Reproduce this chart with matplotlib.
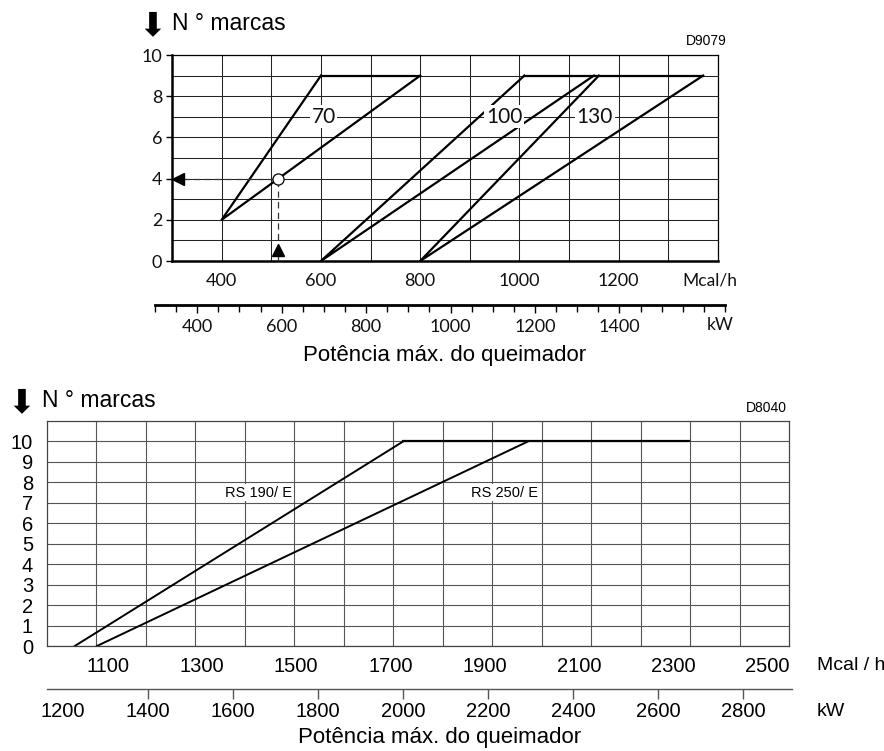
import numpy as np
import matplotlib.pyplot as plt
from matplotlib.transforms import ScaledTranslation

# ---- top chart (D9079): Mcal/h vs number of marks ----
top_models = ['70', '100', '130']
top_low_power = [400, 600, 800]      # power at the lowest mark
top_low_marks = [2, 0, 0]
top_steep_end = [600, 1010, 1160]    # steep line reaches max marks
top_flat_end = [800, 1150, 1370]     # shallow line reaches max marks
top_max_marks = 9
top_label_x = [606, 969, 1152]
top_label_y = 7
example_power = 514
example_marks = 4

top_mcal_ticks = [400, 600, 800, 1000, 1200]
top_kw_ticks = [400, 600, 800, 1000, 1200, 1400]
top_y_ticks = [0, 2, 4, 6, 8, 10]

# ---- bottom chart (D8040) ----
bottom_models = ['RS 190/ E', 'RS 250/ E']
bottom_start = [1030, 1077]
bottom_end = [1727, 1992]
bottom_max_marks = 10
bottom_flat_end = 2334
bottom_label_x = [1419, 1943]
bottom_label_y = 7.5

bottom_mcal_ticks = [1100, 1300, 1500, 1700, 1900, 2100, 2300, 2500]
bottom_kw_ticks = [1200, 1400, 1600, 1800, 2000, 2200, 2400, 2600, 2800]
bottom_y_ticks = list(range(0, 11))

W, H = 884, 751
fig = plt.figure(figsize=(W / 100, H / 100), dpi=100)


def box(l, t, r, b):
    return [l / W, 1 - b / H, (r - l) / W, (b - t) / H]


def fx(px):
    return px / W


def fy(py):
    return 1 - py / H


thin = dict(family='Lato', color='#111111')
arial = dict(family='Liberation Sans')

# ================= top chart =================
ax = fig.add_axes(box(172, 55, 718, 261))
ax.set_xlim(300, 1400)
ax.set_ylim(0, 10)
ax.set_xticks(top_mcal_ticks)
ax.set_xticks(np.arange(300, 1401, 100), minor=True)
ax.set_yticks(top_y_ticks)
ax.set_yticks(np.arange(0, 11, 1), minor=True)
ax.grid(which='both', color='#222222', lw=0.75)
ax.tick_params(axis='x', which='both', length=0, pad=9, labelsize=13)
ax.tick_params(axis='y', which='major', length=4, width=1, pad=3, labelsize=13)
ax.tick_params(axis='y', which='minor', length=0)
for lab in ax.get_xticklabels() + ax.get_yticklabels():
    lab.set(**thin)
for s in ['left', 'bottom']:
    ax.spines[s].set_linewidth(1.8)
for s in ['top', 'right']:
    ax.spines[s].set_linewidth(0.9)

for i in range(len(top_models)):
    ax.plot([top_steep_end[i], top_low_power[i], top_flat_end[i]],
            [top_max_marks, top_low_marks[i], top_max_marks], color='black', lw=1.6, zorder=3)
ax.plot([top_steep_end[0], top_flat_end[0]], [top_max_marks] * 2, color='black', lw=1.6, zorder=3)
ax.plot([top_steep_end[1], top_flat_end[2]], [top_max_marks] * 2, color='black', lw=1.6, zorder=3)

for i, name in enumerate(top_models):
    ax.text(top_label_x[i], top_label_y, name, ha='center', va='center', fontsize=15,
            bbox=dict(facecolor='white', edgecolor='none', pad=1), zorder=4, **thin)

# example reading
x0 = ax.get_xlim()[0]
ax.plot([x0, example_power], [example_marks] * 2, ls=(0, (5, 3.5)), color='#333333', lw=0.9, zorder=3)
ax.plot([example_power] * 2, [0, example_marks], ls=(0, (5, 3.5)), color='#333333', lw=0.9, zorder=3)
ax.plot([example_power], [example_marks], marker='o', ms=8, mfc='white', mec='black', mew=0.9, zorder=5)
ax.plot([x0], [example_marks], marker='<', ms=8, color='black', clip_on=False, zorder=5,
        transform=ax.transData + ScaledTranslation(6 / 100, 0, fig.dpi_scale_trans))
ax.plot([example_power], [0], marker='^', ms=9, color='black', zorder=5,
        transform=ax.transData + ScaledTranslation(0, 11 / 100, fig.dpi_scale_trans))

# kW scale of top chart
axk = fig.add_axes(box(155, 304, 725, 305))
axk.set_xlim(300, 1650)
axk.set_ylim(0, 1)
axk.set_yticks([])
for s in ['top', 'left', 'right']:
    axk.spines[s].set_visible(False)
axk.spines['bottom'].set_linewidth(2)
axk.set_xticks(top_kw_ticks)
axk.set_xticks(np.arange(300, 1651, 50), minor=True)
axk.tick_params(axis='x', which='major', length=6, width=1, pad=4, labelsize=13)
axk.tick_params(axis='x', which='minor', length=5, width=1)
for lab in axk.get_xticklabels():
    lab.set(**thin)
axk.patch.set_visible(False)

fig.text(fx(710), fy(280), 'Mcal/h', ha='center', va='center', fontsize=12.5, **thin)
fig.text(fx(720), fy(325), 'kW', ha='center', va='center', fontsize=12.5, **thin)
fig.text(fx(445), fy(355), 'Potência máx. do queimador', ha='center', va='center', fontsize=16, **arial)
fig.text(fx(706), fy(41), 'D9079', ha='center', va='center', fontsize=10, **arial)
fig.text(fx(152), fy(26), '⬇', ha='center', va='center', fontsize=24, family='DejaVu Sans')
fig.text(fx(172), fy(23), 'N ° marcas', ha='left', va='center', fontsize=16.5, **arial)

# ================= bottom chart =================
bx = fig.add_axes(box(47, 421, 789, 646))
bx.set_xlim(971, 2546)
bx.set_ylim(0, 11)
bx.set_xticks(bottom_mcal_ticks)
bx.set_xticks(np.linspace(971, 2546, 16)[1:-1], minor=True)
bx.set_yticks(bottom_y_ticks)
bx.grid(which='minor', axis='x', color='#555555', lw=0.8)
bx.grid(which='major', axis='y', color='#555555', lw=0.8)
bx.tick_params(axis='both', which='both', length=0, labelsize=14.5)
bx.tick_params(axis='x', pad=8)
bx.tick_params(axis='y', pad=10)
for lab in bx.get_xticklabels() + bx.get_yticklabels():
    lab.set(**arial)
for s in bx.spines.values():
    s.set_linewidth(0.9)
    s.set_color('#444444')

for i in range(len(bottom_models)):
    bx.plot([bottom_start[i], bottom_end[i]], [0, bottom_max_marks], color='black', lw=1.4, zorder=3)
    bx.text(bottom_label_x[i], bottom_label_y, bottom_models[i], ha='center', va='center', fontsize=10.5,
            bbox=dict(facecolor='white', edgecolor='none', pad=1), zorder=4, **arial)
bx.plot([bottom_end[0], bottom_flat_end], [bottom_max_marks] * 2, color='black', lw=1.6, zorder=3)

bk = fig.add_axes(box(47, 688, 792, 689))
bk.set_xlim(1162, 2915)
bk.set_ylim(0, 1)
bk.set_yticks([])
for s in ['top', 'left', 'right']:
    bk.spines[s].set_visible(False)
bk.spines['bottom'].set_linewidth(1)
bk.spines['bottom'].set_color('#555555')
bk.set_xticks(bottom_kw_ticks)
bk.tick_params(axis='x', length=7, width=1, color='#555555', pad=2.5, labelsize=14.5)
bk.xaxis.get_major_ticks()[0].tick1line.set_visible(False)
for lab in bk.get_xticklabels():
    lab.set(**arial)
bk.patch.set_visible(False)

fig.text(fx(851), fy(665), 'Mcal / h', ha='center', va='center', fontsize=14, **arial)
fig.text(fx(831), fy(711), 'kW', ha='center', va='center', fontsize=14, **arial)
fig.text(fx(440), fy(737), 'Potência máx. do queimador', ha='center', va='center', fontsize=16, **arial)
fig.text(fx(766), fy(408), 'D8040', ha='center', va='center', fontsize=10, **arial)
fig.text(fx(21), fy(403), '⬇', ha='center', va='center', fontsize=24, family='DejaVu Sans')
fig.text(fx(42), fy(400), 'N ° marcas', ha='left', va='center', fontsize=16.5, **arial)

fig.savefig('out.png', dpi=100)
